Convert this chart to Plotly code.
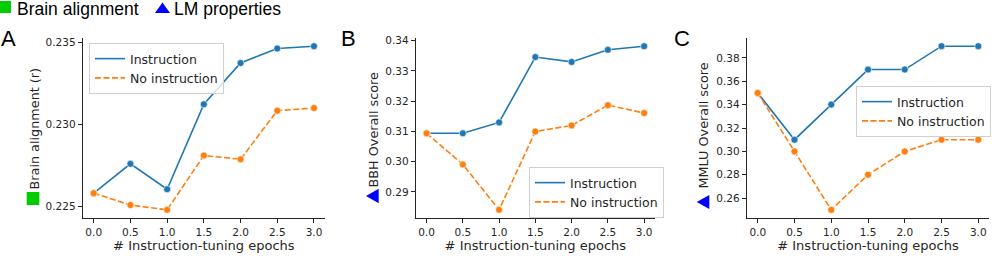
import plotly.graph_objects as go

W, H = 997, 262

epochs = [0.0, 0.5, 1.0, 1.5, 2.0, 2.5, 3.0]

brain_instruction = [0.22581, 0.22760, 0.22605, 0.23124, 0.23376, 0.23465, 0.23479]
brain_no_instruction = [0.22581, 0.22508, 0.22479, 0.22811, 0.22788, 0.23085, 0.23101]

bbh_instruction = [0.3094, 0.3094, 0.3130, 0.3346, 0.3330, 0.3370, 0.3382]
bbh_no_instruction = [0.3094, 0.2991, 0.2841, 0.3100, 0.3120, 0.3187, 0.3161]

mmlu_instruction = [0.35, 0.31, 0.34, 0.37, 0.37, 0.39, 0.39]
mmlu_no_instruction = [0.35, 0.30, 0.25, 0.28, 0.30, 0.31, 0.31]

series_names = ["Instruction", "No instruction"]
panel_letters = ["A", "B", "C"]
y_labels = ["Brain alignment (r)", "BBH Overall score", "MMLU Overall score"]
x_label = "# Instruction-tuning epochs"
x_ticks = [0.0, 0.5, 1.0, 1.5, 2.0, 2.5, 3.0]
y_ticks = [
    [0.225, 0.230, 0.235],
    [0.29, 0.30, 0.31, 0.32, 0.33, 0.34],
    [0.26, 0.28, 0.30, 0.32, 0.34, 0.36, 0.38],
]
y_fmt = [".3f", ".2f", ".2f"]
top_legend = ["Brain alignment", "LM properties"]

BLUE = "#1f77b4"
ORANGE = "#ff7f0e"
GREEN = "#00cc00"
TRI_BLUE = "#0000ff"
FONT = "DejaVu Sans"
TXT = "#262626"
DASH = "6px,2.5px"


def px(x):
    return x / W


def py(y):
    return 1 - y / H


data = [
    (brain_instruction, brain_no_instruction),
    (bbh_instruction, bbh_no_instruction),
    (mmlu_instruction, mmlu_no_instruction),
]

x_dom = [(82.7, 325.0), (415.7, 655.0), (746.7, 989.3)]
y_top, y_bot = 38.0, 218.0
legend_pos = [(89, 43), (529, 167), (856, 86)]


def pad_range(vals, frac=0.05):
    lo, hi = min(vals), max(vals)
    d = (hi - lo) * frac
    return [lo - d, hi + d]


fig = go.Figure()
layout = dict(
    width=W,
    height=H,
    margin=dict(l=0, r=0, t=0, b=0, autoexpand=False),
    paper_bgcolor="white",
    plot_bgcolor="white",
    showlegend=True,
    font=dict(family=FONT, color=TXT),
)

annotations = []
shapes = []

for i, (inst, noinst) in enumerate(data):
    sfx = "" if i == 0 else str(i + 1)
    xa, ya = "x" + sfx, "y" + sfx
    leg = "legend" + sfx
    fig.add_trace(go.Scatter(
        x=epochs, y=inst, mode="lines+markers", xaxis=xa, yaxis=ya,
        line=dict(color=BLUE, width=1.6),
        marker=dict(color=BLUE, size=7, line=dict(color="white", width=0.6)),
        showlegend=False, name=series_names[0], cliponaxis=False))
    fig.add_trace(go.Scatter(
        x=epochs, y=noinst, mode="lines+markers", xaxis=xa, yaxis=ya,
        line=dict(color=ORANGE, width=1.6, dash=DASH),
        marker=dict(color=ORANGE, size=7, line=dict(color="white", width=0.6)),
        showlegend=False, name=series_names[1], cliponaxis=False))
    fig.add_trace(go.Scatter(
        x=[None], y=[None], mode="lines", xaxis=xa, yaxis=ya,
        line=dict(color=BLUE, width=1.6), name=series_names[0], legend=leg))
    fig.add_trace(go.Scatter(
        x=[None], y=[None], mode="lines", xaxis=xa, yaxis=ya,
        line=dict(color=ORANGE, width=1.6, dash=DASH), name=series_names[1], legend=leg))

    x0, x1 = x_dom[i]
    axis_common = dict(
        showline=True, linecolor=TXT, linewidth=1, mirror=False,
        ticks="outside", ticklen=4, tickwidth=0.8, tickcolor=TXT,
        showgrid=False, zeroline=False, automargin=False,
        tickfont=dict(family=FONT, size=10.5, color=TXT),
    )
    layout["xaxis" + sfx] = dict(
        axis_common,
        domain=[px(x0), px(x1)],
        anchor=ya,
        range=[-0.15, 3.15],
        tickvals=x_ticks, tickformat=".1f",
        title=dict(text=x_label, font=dict(family=FONT, size=13, color=TXT), standoff=3),
    )
    allv = list(inst) + list(noinst)
    layout["yaxis" + sfx] = dict(
        axis_common,
        domain=[py(y_bot), py(y_top)],
        anchor=xa,
        range=pad_range(allv),
        tickvals=y_ticks[i], tickformat=y_fmt[i],
    )
    lx, ly = legend_pos[i]
    layout[leg] = dict(
        x=px(lx), y=py(ly), xanchor="left", yanchor="top", xref="paper", yref="paper",
        bgcolor="rgba(255,255,255,0.8)", bordercolor="#d0d0d0", borderwidth=1,
        font=dict(family=FONT, size=12.5, color=TXT),
        tracegroupgap=0, itemwidth=30,
    )

for letter, lx in zip(panel_letters, [8.5, 348, 682]):
    annotations.append(dict(
        text=letter, x=px(lx), y=py(39), xref="paper", yref="paper",
        showarrow=False, xanchor="center", yanchor="middle",
        font=dict(family="Liberation Sans", size=22, color="black")))

ylab_pos = [(34, 128.5), (372.5, 130), (703, 125.5)]
for (lx, ly), txt in zip(ylab_pos, y_labels):
    annotations.append(dict(
        text=txt, x=px(lx), y=py(ly), xref="paper", yref="paper",
        showarrow=False, textangle=-90, xanchor="center", yanchor="middle",
        font=dict(family=FONT, size=12.8, color=TXT)))

shapes.append(dict(type="rect", xref="paper", yref="paper",
                   x0=px(26.7), x1=px(39.3), y0=py(205), y1=py(192),
                   fillcolor=GREEN, line=dict(width=0)))


def tri_left(xl, xr, yt, yb):
    ym = (yt + yb) / 2
    return (f"M {px(xl)} {py(ym)} L {px(xr)} {py(yt)} L {px(xr)} {py(yb)} Z")


shapes.append(dict(type="path", xref="paper", yref="paper",
                   path=tri_left(366, 378.7, 188.7, 203.3),
                   fillcolor=TRI_BLUE, line=dict(width=0)))
shapes.append(dict(type="path", xref="paper", yref="paper",
                   path=tri_left(696.7, 709.3, 195, 209),
                   fillcolor=TRI_BLUE, line=dict(width=0)))

shapes.append(dict(type="rect", xref="paper", yref="paper",
                   x0=px(0), x1=px(11), y0=py(13), y1=py(1),
                   fillcolor=GREEN, line=dict(width=0)))
shapes.append(dict(type="path", xref="paper", yref="paper",
                   path=(f"M {px(155)} {py(13)} L {px(170)} {py(13)} "
                         f"L {px(162.5)} {py(2.5)} Z"),
                   fillcolor=TRI_BLUE, line=dict(width=0)))
annotations.append(dict(
    text=top_legend[0], x=px(15), y=py(8.5), xref="paper", yref="paper",
    showarrow=False, xanchor="left", yanchor="middle",
    font=dict(family="Liberation Sans", size=17.5, color="black")))
annotations.append(dict(
    text=top_legend[1], x=px(172), y=py(8.5), xref="paper", yref="paper",
    showarrow=False, xanchor="left", yanchor="middle",
    font=dict(family="Liberation Sans", size=17.5, color="black")))

layout["annotations"] = annotations
layout["shapes"] = shapes
fig.update_layout(**layout)

fig.write_html(
    "out.html",
    config={"displayModeBar": False},
    post_script="document.body.style.margin='0';document.body.style.overflow='hidden';",
)
